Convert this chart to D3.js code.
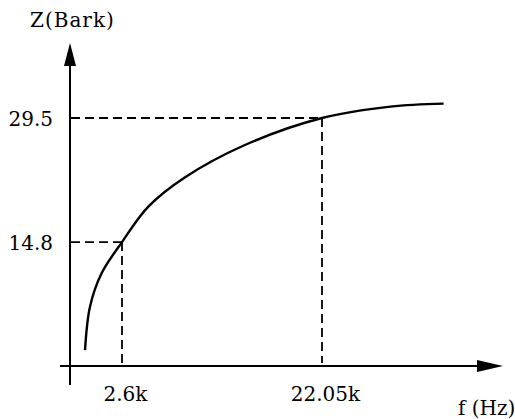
<!DOCTYPE html>
<html>
<head>
<meta charset="utf-8">
<script src="https://cdn.jsdelivr.net/npm/d3@7"></script>
<style>
  body { margin: 0; background: #fff; }
  svg { display: block; }
</style>
</head>
<body>
<div id="chart"></div>
<script>
// --- Data (frequency in kHz, critical band rate in Bark) ---
const freqKHz = [0.75, 1.0, 1.58, 2.6, 5.16, 8.7, 14.55, 22.05, 28.7, 33.85];
const barkZ   = [2.0, 7.15, 11.1, 14.8, 19.0, 22.45, 26.3, 29.5, 30.85, 31.2];

const xTickValues = [2.6, 22.05];
const xTickLabels = ["2.6k", "22.05k"];
const yTickValues = [14.8, 29.5];
const yTickLabels = ["14.8", "29.5"];

const W = 515, H = 419;
const fontFamily = "'DejaVu Serif', 'Liberation Serif', serif";

const svg = d3.select("#chart")
    .append("svg")
        .attr("width", W)
        .attr("height", H);

// --- Scales (schematic, piecewise x axis) ---
const xScale = d3.scaleLinear()
    .domain([0, 2.6, 22.05, 40])
    .range([70, 122, 322, 507]);

const yScale = d3.scaleLinear()
    .domain([0, 29.5])
    .range([367, 118]);

// --- Axis lines with arrows ---
const ax = xScale(0), ay = yScale(0) - 1;

svg.append("line")
    .attr("x1", ax).attr("x2", ax)
    .attr("y1", 385).attr("y2", 62)
    .attr("stroke", "#000").attr("stroke-width", 2);

svg.append("path")
    .attr("d", `M${ax},43 L${ax - 6},66 L${ax + 6},66 Z`)
    .attr("fill", "#000");

svg.append("line")
    .attr("x1", 60).attr("x2", 480)
    .attr("y1", ay).attr("y2", ay)
    .attr("stroke", "#000").attr("stroke-width", 2);

svg.append("path")
    .attr("d", `M503,${ay} L477,${ay - 6} L477,${ay + 6} Z`)
    .attr("fill", "#000");

// --- Dashed guide lines ---
const guides = svg.append("g")
    .attr("stroke", "#000")
    .attr("stroke-width", 1.8)
    .attr("stroke-dasharray", "9,5")
    .attr("fill", "none");

xTickValues.forEach((xv, i) => {
    const yv = yTickValues[i];
    guides.append("line")
        .attr("x1", ax + 1).attr("x2", xScale(xv))
        .attr("y1", yScale(yv)).attr("y2", yScale(yv));
    guides.append("line")
        .attr("x1", xScale(xv)).attr("x2", xScale(xv))
        .attr("y1", yScale(yv)).attr("y2", ay - 3);
});

// --- Curve (centripetal Catmull-Rom copes with the uneven point spacing) ---
const points = freqKHz.map((f, i) => ({ f, z: barkZ[i] }));

const line = d3.line()
    .x(d => xScale(d.f))
    .y(d => yScale(d.z))
    .curve(d3.curveCatmullRom.alpha(0.5));

svg.append("path")
    .datum(points)
    .attr("d", line)
    .attr("fill", "none")
    .attr("stroke", "#000")
    .attr("stroke-width", 2.4)
    .attr("stroke-linejoin", "round");

// --- Tick labels via d3 axes (no tick marks, no domain) ---
const xAxis = svg.append("g")
    .attr("transform", `translate(3, ${ay})`)
    .call(d3.axisBottom(xScale)
        .tickValues(xTickValues)
        .tickFormat((d, i) => xTickLabels[i])
        .tickSize(0)
        .tickPadding(21));

const yAxis = svg.append("g")
    .attr("transform", `translate(${ax}, 1)`)
    .call(d3.axisLeft(yScale)
        .tickValues(yTickValues)
        .tickFormat((d, i) => yTickLabels[i])
        .tickSize(0)
        .tickPadding(17));

[xAxis, yAxis].forEach(g => {
    g.select(".domain").remove();
    g.selectAll("text")
        .attr("fill", "#000")
        .style("font-family", fontFamily)
        .style("font-size", "20px");
});

// --- Axis titles ---
svg.append("text")
    .attr("x", 30).attr("y", 27)
    .text("Z(Bark)")
    .style("font-family", fontFamily)
    .style("font-size", "20px")
    .style("letter-spacing", "1px");

svg.append("text")
    .attr("x", 458).attr("y", 415)
    .text("f (Hz)")
    .style("font-family", fontFamily)
    .style("font-size", "20px");
</script>
</body>
</html>
